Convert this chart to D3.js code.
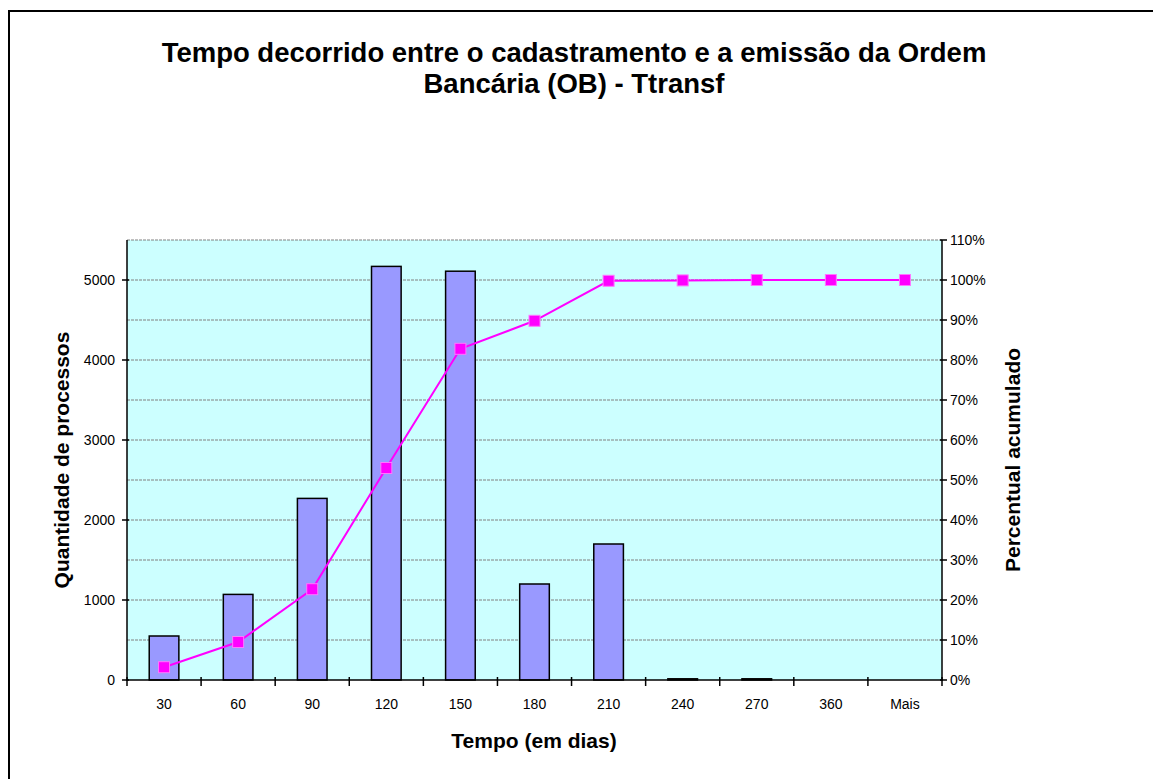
<!DOCTYPE html>
<html>
<head>
<meta charset="utf-8">
<script src="https://cdn.jsdelivr.net/npm/d3@7"></script>
<style>
  body { margin: 0; background: #fff; }
  svg { display: block; font-family: 'Liberation Sans', Arial, sans-serif; }
</style>
</head>
<body>
<svg width="1153" height="779"></svg>
<script>
var categories = ['30', '60', '90', '120', '150', '180', '210', '240', '270', '360', 'Mais']
var counts = [550, 1070, 2270, 5170, 5110, 1200, 1700, 15, 15, 0, 0]
var cumPct = [3.2, 9.5, 22.7, 53, 82.8, 89.8, 99.8, 99.9, 100, 100, 100]
var leftTicks = [0, 1000, 2000, 3000, 4000, 5000]
var rightTicks = [0, 10, 20, 30, 40, 50, 60, 70, 80, 90, 100, 110]

var svg = d3.select('svg')
var m = { left: 127, top: 240, right: 942, bottom: 680 }

// outer frame
svg.append('rect')
    .attr('x', 9).attr('y', 11)
    .attr('width', 1160).attr('height', 800)
    .attr('fill', '#fff')
    .attr('stroke', '#000')
    .attr('stroke-width', 2)

svg.append('text')
    .attr('x', 574).attr('y', 62)
    .attr('text-anchor', 'middle')
    .attr('font-size', 27.5).attr('font-weight', 'bold')
    .text('Tempo decorrido entre o cadastramento e a emissão da Ordem')
svg.append('text')
    .attr('x', 574).attr('y', 93)
    .attr('text-anchor', 'middle')
    .attr('font-size', 27.5).attr('font-weight', 'bold')
    .text('Bancária (OB) - Ttransf')

var x = d3.scaleBand().domain(categories).range([m.left, m.right]).padding(0)
var y = d3.scaleLinear().domain([0, 5500]).range([m.bottom, m.top])
var y2 = d3.scaleLinear().domain([0, 110]).range([m.bottom, m.top])

svg.append('rect')
    .attr('x', m.left).attr('y', m.top)
    .attr('width', m.right - m.left).attr('height', m.bottom - m.top)
    .attr('fill', '#ccffff')

// gridlines every 500
svg.append('g')
  .selectAll('line')
  .data(d3.range(500, 5501, 500))
  .enter().append('line')
    .attr('x1', m.left).attr('x2', m.right)
    .attr('y1', d => y(d)).attr('y2', d => y(d))
    .attr('stroke', '#808080')
    .attr('stroke-width', 1)
    .attr('stroke-dasharray', '3,1')

// bars
var bw = x.bandwidth() * 0.4
svg.append('g')
  .selectAll('rect')
  .data(counts.map((v, i) => ({ cat: categories[i], v: v })).filter(d => d.v > 0))
  .enter().append('rect')
    .attr('x', d => x(d.cat) + (x.bandwidth() - bw) / 2)
    .attr('y', d => y(d.v))
    .attr('width', bw)
    .attr('height', d => m.bottom - y(d.v))
    .attr('fill', '#9999ff')
    .attr('stroke', '#000')
    .attr('stroke-width', 1.5)

// axes
var axisG = svg.append('g').attr('stroke', '#000').attr('stroke-width', 1.5)
axisG.append('line').attr('x1', m.left).attr('x2', m.left).attr('y1', m.top).attr('y2', m.bottom + 1)
axisG.append('line').attr('x1', m.right).attr('x2', m.right).attr('y1', m.top).attr('y2', m.bottom + 1)
axisG.append('line').attr('x1', m.left - 1).attr('x2', m.right + 1).attr('y1', m.bottom).attr('y2', m.bottom)

axisG.selectAll('.lt').data(leftTicks).enter().append('line')
    .attr('x1', m.left - 5).attr('x2', m.left + 2)
    .attr('y1', d => y(d)).attr('y2', d => y(d))
axisG.selectAll('.rt').data(rightTicks).enter().append('line')
    .attr('x1', m.right - 2).attr('x2', m.right + 5)
    .attr('y1', d => y2(d)).attr('y2', d => y2(d))
axisG.selectAll('.bt').data(d3.range(categories.length + 1)).enter().append('line')
    .attr('x1', i => m.left + i * x.step()).attr('x2', i => m.left + i * x.step())
    .attr('y1', m.bottom - 3).attr('y2', m.bottom + 6)

svg.append('g').selectAll('text').data(leftTicks).enter().append('text')
    .attr('x', m.left - 12).attr('y', d => y(d) + 5)
    .attr('text-anchor', 'end').attr('font-size', 14)
    .text(d => d)
svg.append('g').selectAll('text').data(rightTicks).enter().append('text')
    .attr('x', m.right + 8).attr('y', d => y2(d) + 5)
    .attr('font-size', 14)
    .text(d => d + '%')
svg.append('g').selectAll('text').data(categories).enter().append('text')
    .attr('x', d => x(d) + x.bandwidth() / 2).attr('y', 709)
    .attr('text-anchor', 'middle').attr('font-size', 14)
    .text(d => d)

// cumulative line
var line = d3.line()
    .x((d, i) => x(categories[i]) + x.bandwidth() / 2)
    .y(d => y2(d))
svg.append('path')
    .datum(cumPct)
    .attr('d', line)
    .attr('fill', 'none')
    .attr('stroke', '#ff00ff')
    .attr('stroke-width', 2)
svg.append('g').selectAll('rect').data(cumPct).enter().append('rect')
    .attr('x', (d, i) => x(categories[i]) + x.bandwidth() / 2 - 5.5)
    .attr('y', d => y2(d) - 5.5)
    .attr('width', 11).attr('height', 11)
    .attr('fill', '#ff00ff')
    .attr('stroke', '#ff77ff')
    .attr('stroke-width', 1)

// axis titles
svg.append('text')
    .attr('transform', 'translate(69,460) rotate(-90)')
    .attr('text-anchor', 'middle').attr('font-size', 21).attr('font-weight', 'bold')
    .text('Quantidade de processos')
svg.append('text')
    .attr('transform', 'translate(1020,460) rotate(-90)')
    .attr('text-anchor', 'middle').attr('font-size', 21).attr('font-weight', 'bold')
    .text('Percentual acumulado')
svg.append('text')
    .attr('x', 534).attr('y', 748)
    .attr('text-anchor', 'middle').attr('font-size', 21).attr('font-weight', 'bold')
    .text('Tempo (em dias)')
</script>
</body>
</html>
